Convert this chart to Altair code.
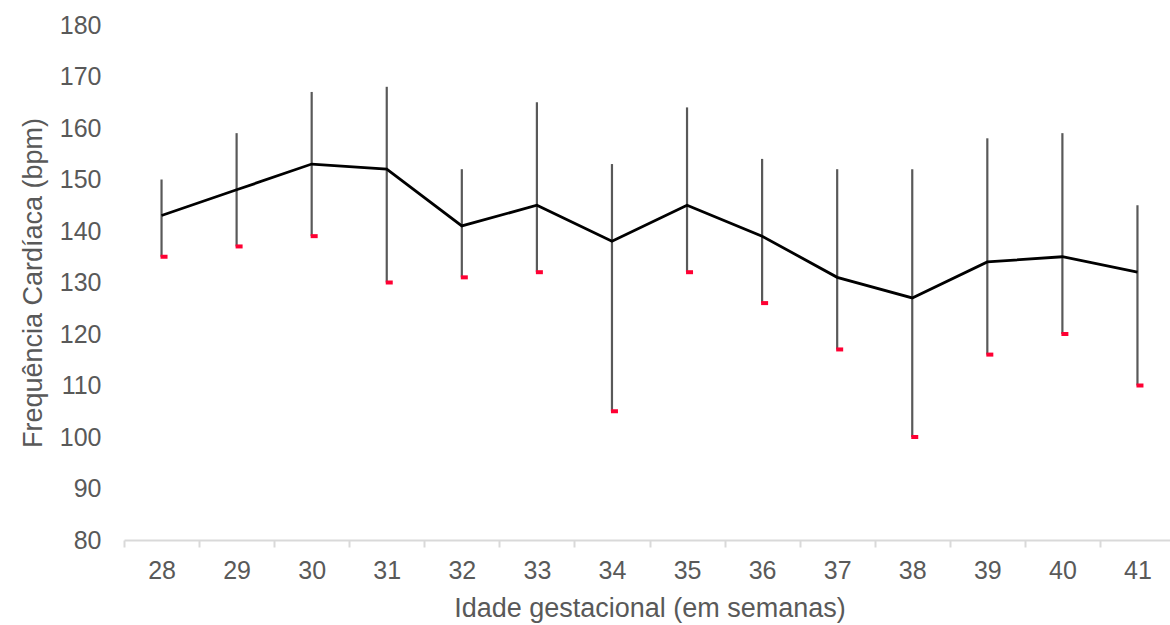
import altair as alt
import pandas as pd

# Gestational age (weeks) and heart-rate summary per week (bpm)
semanas = [28, 29, 30, 31, 32, 33, 34, 35, 36, 37, 38, 39, 40, 41]
media = [143, 148, 153, 152, 141, 145, 138, 145, 139, 131, 127, 134, 135, 132]
maximo = [150, 159, 167, 168, 152, 165, 153, 164, 154, 152, 152, 158, 159, 145]
minimo = [135, 137, 139, 130, 131, 132, 105, 132, 126, 117, 100, 116, 120, 110]

df = pd.DataFrame({
    "semana": [str(s) for s in semanas],
    "media": media,
    "maximo": maximo,
    "minimo": minimo,
})

FONT = "Liberation Sans"
TEXT = "#595959"
W, H = 1046, 515

x = alt.X(
    "semana:N",
    sort=None,
    scale=alt.Scale(type="band", paddingInner=0, paddingOuter=0, range=[0, 1051]),
    axis=alt.Axis(
        title="Idade gestacional (em semanas)",
        grid=False,
        labelAngle=0,
        labelFont=FONT,
        labelFontSize=25,
        labelColor=TEXT,
        labelBaseline="middle",
        labelPadding=23,
        domainColor="#d9d9d9",
        domainWidth=2,
        tickColor="#d9d9d9",
        tickWidth=2,
        tickSize=7,
        tickBand="extent",
        titleFont=FONT,
        titleFontSize=27,
        titleFontWeight="normal",
        titleColor=TEXT,
        titleX=525.5,
        titleY=68,
        titleBaseline="middle",
    ),
)

y_scale = alt.Scale(domain=[80, 180], nice=False, zero=False)
y_axis = alt.Axis(
    title="Frequência Cardíaca (bpm)",
    values=list(range(80, 181, 10)),
    grid=False,
    domain=False,
    ticks=False,
    tickSize=0,
    labelFont=FONT,
    labelFontSize=25,
    labelColor=TEXT,
    labelPadding=23,
    titleFont=FONT,
    titleFontSize=27,
    titleFontWeight="normal",
    titleColor=TEXT,
    titleX=-91,
    titleY=257.5,
    titleAngle=-90,
    titleBaseline="middle",
)

base = alt.Chart(df)

barras = base.mark_rule(color="#595959", strokeWidth=2.2).encode(
    x=x,
    y=alt.Y("minimo:Q", scale=y_scale, axis=y_axis),
    y2="maximo:Q",
)

linha = base.mark_line(color="#000000", strokeWidth=2.8).encode(
    x=x,
    y=alt.Y("media:Q", scale=y_scale, axis=y_axis),
)

minimos = base.mark_tick(
    color="#ff0033", opacity=1, size=7, thickness=4, xOffset=2.5
).encode(
    x=x,
    y=alt.Y("minimo:Q", scale=y_scale, axis=y_axis),
)

chart = (
    alt.layer(barras, linha, minimos)
    .properties(
        width=W,
        height=H,
        background="#ffffff",
        autosize=alt.AutoSizeParams(type="none"),
        padding={"left": 124, "top": 25, "right": 0, "bottom": 85},
    )
    .configure_view(strokeWidth=0, stroke="transparent")
    .configure_axis(grid=False)
)

chart.save("out.html", embed_options={"renderer": "svg", "actions": False})
